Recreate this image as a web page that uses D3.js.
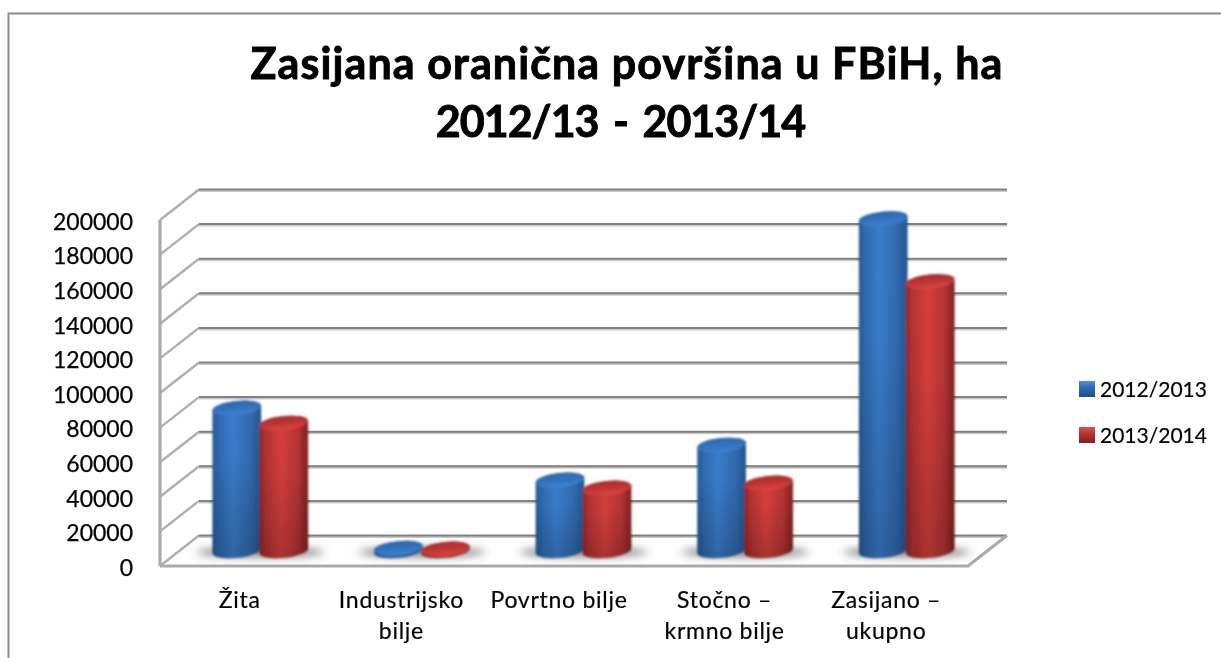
<!DOCTYPE html>
<html>
<head>
<meta charset="utf-8">
<script src="https://cdn.jsdelivr.net/npm/d3@7"></script>
<style>
html,body{margin:0;padding:0;background:#fff;}
svg{display:block;}
text{font-family:Lato,"Open Sans",sans-serif;fill:#000;}
</style>
</head>
<body>
<svg id="c" width="1221" height="658"></svg>
<script>
const titleLines = ["Zasijana oranična površina u FBiH, ha", "2012/13 - 2013/14"];
const categories = ["Žita", "Industrijsko bilje", "Povrtno bilje", "Stočno – krmno bilje", "Zasijano – ukupno"];
const categoryLines = [["Žita"], ["Industrijsko", "bilje"], ["Povrtno bilje"], ["Stočno –", "krmno bilje"], ["Zasijano –", "ukupno"]];
const seriesNames = ["2012/2013", "2013/2014"];
const values2012 = [82500, 1500, 40900, 61100, 192000];
const values2013 = [73800, 1000, 36300, 39200, 155600];
const yTicks = d3.range(0, 200001, 20000);

const svg = d3.select("#c");
const defs = svg.append("defs");
const soft = (id, s) => defs.append("filter").attr("id", id)
  .attr("filterUnits", "userSpaceOnUse").attr("x", 0).attr("y", 0).attr("width", 1221).attr("height", 658)
  .append("feGaussianBlur").attr("stdDeviation", s);
soft("soft", 0.7); soft("softBar", 1); soft("softText", 0.4); soft("shadow", 4);

function linGrad(id, x2, y2, stops) {
  const g = defs.append("linearGradient").attr("id", id).attr("x1", 0).attr("y1", 0).attr("x2", x2).attr("y2", y2);
  stops.forEach(s => g.append("stop").attr("offset", s[0]).attr("stop-color", s[1]).attr("stop-opacity", s[2] === undefined ? 1 : s[2]));
}
linGrad("body0", 1, 0, [[0, "#265a98"], [.12, "#2f69ae"], [.42, "#3b7fce"], [.8, "#3069ae"], [1, "#23548f"]]);
linGrad("body1", 1, 0, [[0, "#8e2727"], [.12, "#b23232"], [.45, "#d6403d"], [.8, "#b53333"], [1, "#7e2121"]]);
linGrad("top0", 0, 1, [[0, "#2d66ac"], [.5, "#3371bc"], [1, "#3d82d2"]]);
linGrad("top1", 0, 1, [[0, "#a82e2e"], [.5, "#bd3535"], [1, "#dc4441"]]);
linGrad("fade", 0, 1, [[0, "#000", 0], [.35, "#000", .02], [1, "#000", .2]]);
linGrad("sw0", 0, 1, [[0, "#4a8fdc"], [.4, "#2f6cb5"], [1, "#1f4f8a"]]);
linGrad("sw1", 0, 1, [[0, "#e0504c"], [.4, "#b83232"], [1, "#7f2222"]]);

// Plot geometry
const plot = {x0: 160, x1: 968, yBottom: 566, yTop: 220, depthX: 39, depthY: -30.5};
const y = d3.scaleLinear().domain([0, 200000]).range([plot.yBottom, plot.yTop]);
const band = d3.scaleBand().domain(categories).range([plot.x0, plot.x1]);
const inner = d3.scaleBand().domain(seriesNames).range([0, 94]);
const midX = plot.depthX / 2, midY = plot.depthY / 2;

// Walls and gridlines
const walls = svg.append("g").attr("filter", "url(#soft)").attr("fill", "none");
yTicks.forEach(t => {
  const yy = y(t), bx = plot.x0 + plot.depthX, by = yy + plot.depthY;
  walls.append("path").attr("d", `M${plot.x0},${yy}L${bx},${by}`).attr("stroke", "#aeaeae").attr("stroke-width", 2.4);
  walls.append("path").attr("d", `M${bx},${by + 1}H${plot.x1 + plot.depthX}`).attr("stroke", "#c8c8c8").attr("stroke-width", 3);
  walls.append("path").attr("d", `M${bx},${by}H${plot.x1 + plot.depthX}`).attr("stroke", "#808080").attr("stroke-width", 2);
});
walls.append("path").attr("d", `M${plot.x0},${y(200000)}V${y(0)}`).attr("stroke", "#aaa").attr("stroke-width", 3.2);
walls.append("path").attr("d", `M${plot.x0},${y(0)}H${plot.x1}L${plot.x1 + plot.depthX},${y(0) + plot.depthY}`).attr("stroke", "#aaa").attr("stroke-width", 3.2);

// Base shadows
const shadows = svg.append("g").attr("filter", "url(#shadow)");
categories.forEach(c => {
  shadows.append("ellipse")
    .attr("cx", band(c) + band.bandwidth() / 2 + midX)
    .attr("cy", y(0) + midY + 1.5)
    .attr("rx", 64).attr("ry", 4.5)
    .attr("fill", "#444").attr("opacity", .7);
});

// Cylinders
const rx = 24.5, ry = 7, tilt = 6 * Math.PI / 180;
const ex = rx * Math.cos(tilt), ey = rx * Math.sin(tilt);
const bars = svg.append("g").attr("filter", "url(#softBar)");
function cylinder(cat, name, value, i) {
  const cx = band(cat) + band.bandwidth() / 2 + midX - 47 + inner(name) + inner.bandwidth() / 2;
  const top = y(value) + midY, bot = y(0) + midY;
  const d = `M${cx - ex},${top + ey}L${cx - ex},${bot + ey}A${rx},${ry} -6 0 0 ${cx + ex},${bot - ey}L${cx + ex},${top - ey}A${rx},${ry} -6 0 0 ${cx - ex},${top + ey}Z`;
  bars.append("path").attr("d", d).attr("fill", `url(#body${i})`);
  bars.append("path").attr("d", d).attr("fill", "url(#fade)");
  bars.append("ellipse").attr("cx", 0).attr("cy", 0).attr("rx", rx).attr("ry", ry)
    .attr("transform", `translate(${cx},${top}) rotate(-6)`)
    .attr("fill", `url(#top${i})`);
}
categories.forEach((c, k) => {
  cylinder(c, seriesNames[0], values2012[k], 0);
  cylinder(c, seriesNames[1], values2013[k], 1);
});

// Texts
const texts = svg.append("g").attr("filter", "url(#softText)");
const title = texts.append("g").attr("text-anchor", "middle").attr("font-weight", 700).attr("font-size", 43)
  .style("stroke", "#000").style("stroke-width", .9);
title.append("text").attr("x", 627).attr("y", 79).style("letter-spacing", "1.1px").text(titleLines[0]);
title.append("text").attr("x", 620.5).attr("y", 137).style("letter-spacing", "-1px").style("word-spacing", "5px").text(titleLines[1]);

const yAxis = d3.axisLeft(y).tickValues(yTicks).tickFormat(d3.format("d")).tickSize(0).tickPadding(0);
const ax = texts.append("g").attr("transform", "translate(133,2)").call(yAxis);
ax.select(".domain").remove();
ax.selectAll("text").attr("font-size", 23).attr("font-family", "Lato,'Open Sans',sans-serif").attr("fill", "#000")
  .style("stroke", "#000").style("stroke-width", .25);

categories.forEach((c, k) => {
  const g = texts.append("text").attr("text-anchor", "middle").attr("font-size", 23)
    .style("letter-spacing", "0.72px").style("stroke", "#000").style("stroke-width", .2);
  categoryLines[k].forEach((ln, j) => {
    g.append("tspan").attr("x", band(c) + band.bandwidth() / 2 - 1 - (k === 2 ? 4 : 0)).attr("y", 608 + j * 30.5).text(ln);
  });
});

seriesNames.forEach((n, i) => {
  const yy = 381 + i * 46;
  svg.append("rect").attr("x", 1079).attr("y", yy).attr("width", 16).attr("height", 16)
    .attr("fill", `url(#sw${i})`).attr("filter", "url(#soft)");
  texts.append("text").attr("x", 1100).attr("y", yy + 15.5).attr("font-size", 21)
    .style("stroke", "#000").style("stroke-width", .2).text(n);
});

// Chart frame (open to the right and bottom, as cropped)
svg.append("path").attr("d", "M8.5,658V13.5H1221").attr("fill", "none").attr("stroke", "#8c8c8c").attr("stroke-width", 2);
</script>
</body>
</html>
